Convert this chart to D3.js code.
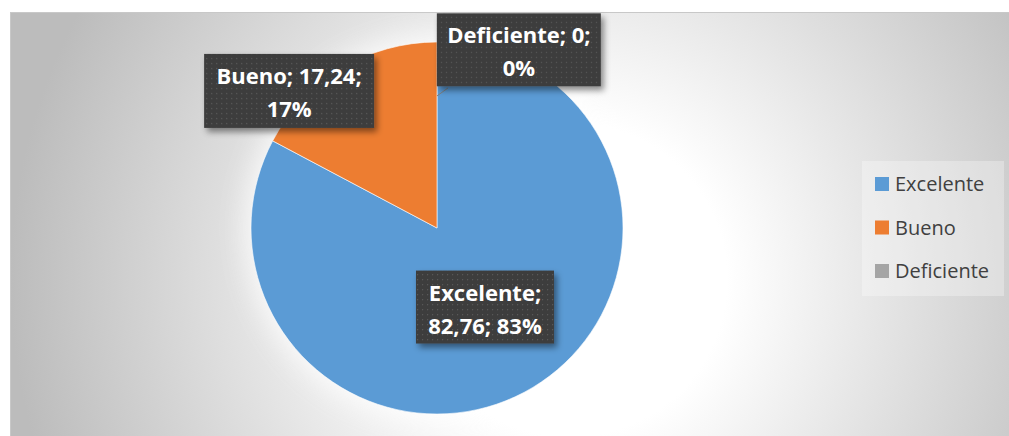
<!DOCTYPE html>
<html>
<head>
<meta charset="utf-8">
<script src="https://cdn.jsdelivr.net/npm/d3@7"></script>
<style>
  html, body { margin: 0; padding: 0; background: #ffffff; }
  svg { display: block; }
</style>
</head>
<body>
<svg id="chart" width="1009" height="436"></svg>
<script>
// data
const categories = ["Excelente", "Bueno", "Deficiente"];
const values = [82.76, 17.24, 0];
const valueLabels = ["82,76", "17,24", "0"];
const percentLabels = ["83%", "17%", "0%"];
const colors = ["#5B9BD5", "#ED7D31", "#A5A5A5"];

const width = 1009, height = 436;
const frame = { x: 10, y: 12, w: 999, h: 424 };
const center = { x: 437, y: 228 };
const radius = 186;

// label box layout, offsets in radius units from pie center
const labelLayout = [
  { dx: 0.258, dy: 0.425, w: 138, h: 73, lines: d => [d.cat + ";", d.val + "; " + d.pct] },
  { dx: -0.795, dy: -0.737, w: 170, h: 74, lines: d => [d.cat + "; " + d.val + ";", d.pct] },
  { dx: 0.44, dy: -0.958, w: 164, h: 73, lines: d => [d.cat + "; " + d.val + ";", d.pct] }
];

const svg = d3.select("#chart");
const defs = svg.append("defs");

const bg = defs.append("radialGradient")
  .attr("id", "bg")
  .attr("gradientUnits", "userSpaceOnUse")
  .attr("cx", 570).attr("cy", 280).attr("r", 560);
bg.append("stop").attr("offset", "0").attr("stop-color", "#ffffff");
bg.append("stop").attr("offset", "0.28").attr("stop-color", "#ffffff");
bg.append("stop").attr("offset", "1").attr("stop-color", "#bcbcbc");

const glow = defs.append("filter").attr("id", "glow")
  .attr("x", "-30%").attr("y", "-30%").attr("width", "160%").attr("height", "160%");
glow.append("feGaussianBlur").attr("stdDeviation", 14);

const shadow = defs.append("filter").attr("id", "shadow")
  .attr("x", "-20%").attr("y", "-30%").attr("width", "140%").attr("height", "170%");
shadow.append("feDropShadow")
  .attr("dx", 3).attr("dy", 4).attr("stdDeviation", 3)
  .attr("flood-color", "#000").attr("flood-opacity", 0.45);

const dots = defs.append("pattern").attr("id", "dots")
  .attr("patternUnits", "userSpaceOnUse").attr("width", 5).attr("height", 5);
dots.append("rect").attr("width", 5).attr("height", 5).attr("fill", "#3d3d3d");
dots.append("rect").attr("x", 2).attr("y", 2).attr("width", 1.2).attr("height", 1.2).attr("fill", "#5a5a5a");

// chart area
svg.append("rect")
  .attr("x", frame.x + 0.5).attr("y", frame.y + 0.5)
  .attr("width", frame.w).attr("height", frame.h)
  .attr("fill", "url(#bg)")
  .attr("stroke", "#c8c8c8").attr("stroke-width", 1);

const data = categories.map((c, i) => ({
  cat: c, value: values[i], val: valueLabels[i], pct: percentLabels[i], color: colors[i], i
}));

const pie = d3.pie().sort(null).value(d => d.value);
const arc = d3.arc().innerRadius(0).outerRadius(radius);
const arcs = pie(data);

const g = svg.append("g").attr("transform", `translate(${center.x},${center.y})`);

// soft white halo around the pie
g.append("circle").attr("r", radius + 6)
  .attr("fill", "#ffffff").attr("opacity", 0.8)
  .attr("filter", "url(#glow)");

g.selectAll("path.slice")
  .data(arcs.filter(d => d.data.value > 0))
  .join("path")
  .attr("class", "slice")
  .attr("d", arc)
  .attr("fill", d => d.data.color)
  .attr("stroke", "#ffffff")
  .attr("stroke-width", 0.6);

// leader line for the zero slice
const zero = arcs[2];
const zp = d3.arc().innerRadius(radius * 0.71).outerRadius(radius * 0.71).centroid(zero);
g.append("line")
  .attr("x1", zp[0]).attr("y1", zp[1])
  .attr("x2", zp[0] + 11).attr("y2", zp[1] - 8)
  .attr("stroke", "#7f7f7f").attr("stroke-width", 1);

// data labels
const labels = g.selectAll("g.lbl")
  .data(arcs)
  .join("g")
  .attr("class", "lbl")
  .attr("transform", d => {
    const L = labelLayout[d.index];
    return `translate(${L.dx * radius},${L.dy * radius})`;
  });

labels.append("rect")
  .attr("x", d => -labelLayout[d.index].w / 2)
  .attr("y", d => -labelLayout[d.index].h / 2)
  .attr("width", d => labelLayout[d.index].w)
  .attr("height", d => labelLayout[d.index].h)
  .attr("fill", "url(#dots)")
  .attr("filter", "url(#shadow)");

labels.each(function (d) {
  const L = labelLayout[d.index];
  const lines = L.lines(d.data);
  d3.select(this).selectAll("text")
    .data(lines)
    .join("text")
    .attr("x", 0)
    .attr("y", (t, k) => -L.h / 2 + 30 + k * 33)
    .attr("text-anchor", "middle")
    .attr("font-family", "'Open Sans', sans-serif")
    .attr("font-weight", "bold")
    .attr("font-size", 22)
    .attr("fill", "#ffffff")
    .text(t => t);
});

// legend
const legend = svg.append("g").attr("transform", "translate(862,161)");
legend.append("rect")
  .attr("width", 142).attr("height", 135)
  .attr("fill", "#ffffff").attr("opacity", 0.3);

const item = legend.selectAll("g.item")
  .data(data)
  .join("g")
  .attr("class", "item")
  .attr("transform", (d, i) => `translate(13,${23 + i * 43.5})`);

item.append("rect")
  .attr("x", 0).attr("y", -7)
  .attr("width", 14).attr("height", 14)
  .attr("fill", d => d.color);

item.append("text")
  .attr("x", 20).attr("y", 7)
  .attr("font-family", "'Open Sans', sans-serif")
  .attr("font-size", 20)
  .attr("fill", "#404040")
  .text(d => d.cat);
</script>
</body>
</html>
